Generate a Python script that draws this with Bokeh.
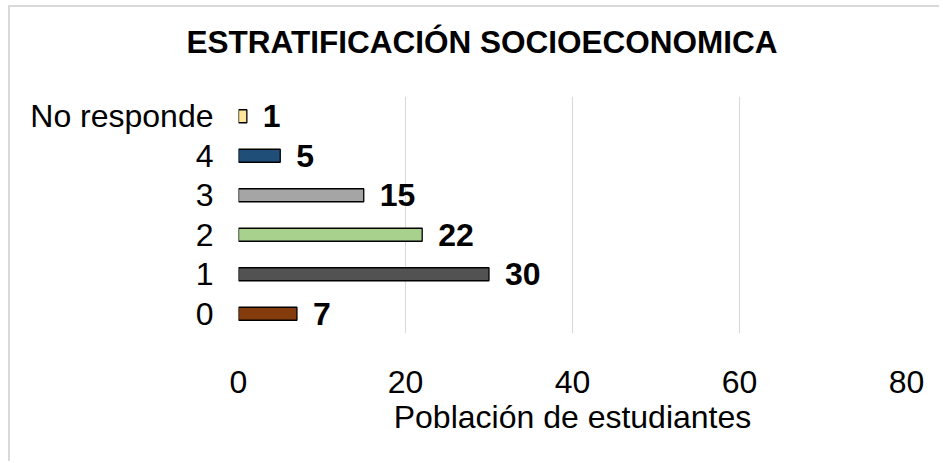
from bokeh.plotting import figure
from bokeh.models import ColumnDataSource, FactorRange, Range1d, FixedTicker, Title
from bokeh.core.properties import value
from bokeh.embed import file_html
from bokeh.resources import INLINE

categories = ["0", "1", "2", "3", "4", "No responde"]
counts = [7, 30, 22, 15, 5, 1]
bar_colors = ["#843C0C", "#525252", "#A9D18E", "#A5A5A5", "#1F4E79", "#FFE699"]
x_ticks = [0, 20, 40, 60, 80]
title_text = "ESTRATIFICACIÓN SOCIOECONOMICA"
x_label = "Población de estudiantes"

FONT = "Liberation Sans"

source = ColumnDataSource(dict(cat=categories, val=counts, color=bar_colors,
                               lab=[str(v) for v in counts]))

p = figure(width=931, height=456, output_backend="svg", toolbar_location=None,
           y_range=FactorRange(*categories), x_range=Range1d(0, 80),
           min_border_left=228, min_border_right=35, min_border_top=89,
           min_border_bottom=130)

# the visible chart title
p.title = Title(text=title_text, align="left", offset=-52, standoff=0,
                text_font=FONT, text_font_size="31.5px", text_font_style="bold",
                text_color="black")
# spacer panel between the title and the frame
p.add_layout(Title(text=".", text_color="white", text_font_size="10px", standoff=27), "above")

p.hbar(y="cat", right="val", left=0, height=0.33, fill_color="color",
       line_color="black", line_width=1.3, source=source)

p.text(x="val", y="cat", text="lab", source=source, x_offset=16,
       text_baseline="middle", text_align="left", text_font=value(FONT),
       text_font_size="32px", text_font_style="bold", text_color="black")

p.outline_line_color = None
p.background_fill_color = "white"
p.border_fill_color = "white"

p.xgrid.grid_line_color = "#D9D9D9"
p.xgrid.grid_line_width = 1
p.ygrid.grid_line_color = None

p.xaxis.ticker = FixedTicker(ticks=x_ticks)
p.xaxis.axis_line_color = None
p.xaxis.major_tick_line_color = None
p.xaxis.minor_tick_line_color = None
p.xaxis.major_label_text_font = FONT
p.xaxis.major_label_text_font_size = "32px"
p.xaxis.major_label_text_color = "black"
p.xaxis.major_label_standoff = 31
p.xaxis.axis_label = x_label
p.xaxis.axis_label_text_font = FONT
p.xaxis.axis_label_text_font_size = "32px"
p.xaxis.axis_label_text_font_style = "normal"
p.xaxis.axis_label_text_color = "black"
p.xaxis.axis_label_standoff = 3

p.yaxis.axis_line_color = None
p.yaxis.major_tick_line_color = None
p.yaxis.minor_tick_line_color = None
p.yaxis.major_tick_out = 0
p.yaxis.major_tick_in = 0
p.yaxis.major_label_text_font = FONT
p.yaxis.major_label_text_font_size = "32px"
p.yaxis.major_label_text_color = "black"
p.yaxis.major_label_standoff = 25

p.styles = {"margin-left": "8px", "margin-top": "5px",
            "border-left": "2px solid #D9D9D9", "border-top": "2px solid #D9D9D9"}

open("out.html", "w").write(file_html(p, INLINE))
